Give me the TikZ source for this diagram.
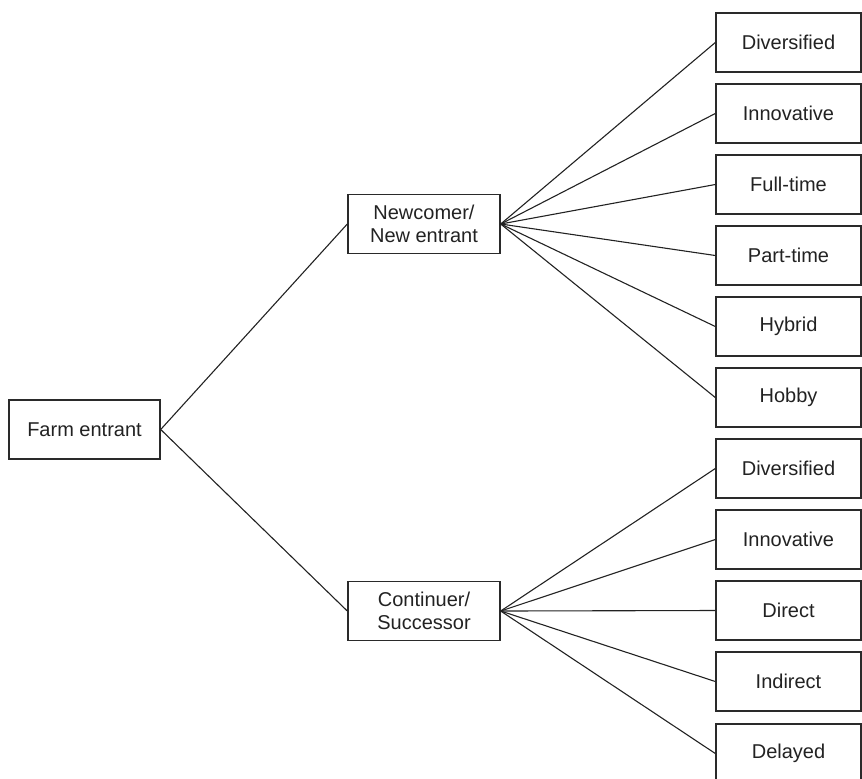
\documentclass[tikz,border=0pt]{standalone}
\usepackage{fontspec}
\setmainfont{Liberation Sans}
\definecolor{ink}{HTML}{222222}
\definecolor{edge}{HTML}{2A2A2A}
\begin{document}
\begin{tikzpicture}[x=0.5pt,y=-0.5pt,
  box/.style={draw=edge, line width=0.7pt, inner sep=0pt, text=ink,
    align=center, font=\fontsize{10}{11.7}\selectfont,
    minimum height=29.5pt},
  leafbox/.style={box, minimum width=72.5pt},
  midbox/.style={box, minimum width=76pt},
  link/.style={draw=ink, line width=0.55pt}]
\useasboundingbox (0,0) rectangle (862,778);

% root and second level
\node[box, minimum width=75.5pt] (farm) at (84.5,429.5) {Farm entrant};
\node[midbox] (new) at (424,224) {Newcomer/\\New entrant};
\node[midbox] (cont) at (424,611) {Continuer/\\Successor};

% leaves of the newcomer branch
\node[leafbox] (n1) at (788.5,42.5) {Diversified};
\node[leafbox] (n2) at (788.5,113.5) {Innovative};
\node[leafbox] (n3) at (788.5,184.5) {Full-time};
\node[leafbox] (n4) at (788.5,255.5) {Part-time};
\node[leafbox] (n5) at (788.5,326.5) {Hybrid};
\node[leafbox] (n6) at (788.5,397.5) {Hobby};

% leaves of the continuer branch
\node[leafbox] (c1) at (788.5,468.5) {Diversified};
\node[leafbox] (c2) at (788.5,539.5) {Innovative};
\node[leafbox] (c3) at (788.5,610.5) {Direct};
\node[leafbox] (c4) at (788.5,681.5) {Indirect};
\node[leafbox] (c5) at (788.5,753.5) {Delayed};

% connectors
\draw[link] (farm.east) -- (new.west);
\draw[link] (farm.east) -- (cont.west);
\foreach \n in {n1,n2,n3,n4,n5,n6}
  \draw[link] (new.east) -- (\n.west);
\foreach \n in {c1,c2,c3,c4,c5}
  \draw[link] (cont.east) -- (\n.west);
\end{tikzpicture}
\end{document}
